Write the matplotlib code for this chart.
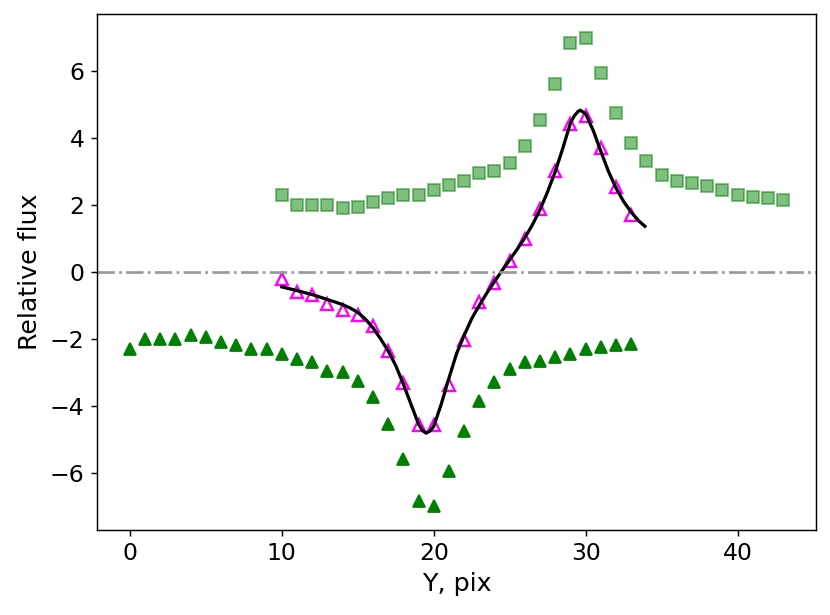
import matplotlib
matplotlib.use("Agg")
import matplotlib.pyplot as plt

# pixel positions along Y
pix_low = list(range(0, 34))
pix_mid = list(range(10, 34))
pix_high = list(range(10, 44))

# filled green triangles (negative lobe)
flux_low = [-2.3, -2.0, -2.0, -2.0, -1.9, -1.95, -2.1, -2.2, -2.3, -2.3,
            -2.45, -2.6, -2.7, -2.95, -3.0, -3.25, -3.75, -4.55, -5.6, -6.85,
            -7.0, -5.95, -4.75, -3.85, -3.3, -2.9, -2.7, -2.65, -2.55, -2.45,
            -2.3, -2.25, -2.2, -2.15]

# light green squares (positive lobe)
flux_high = [2.3, 2.0, 2.0, 2.0, 1.9, 1.95, 2.1, 2.2, 2.3, 2.3,
             2.45, 2.6, 2.7, 2.95, 3.0, 3.25, 3.75, 4.55, 5.6, 6.85,
             7.0, 5.95, 4.75, 3.85, 3.3, 2.9, 2.7, 2.65, 2.55, 2.45,
             2.3, 2.25, 2.2, 2.15]

# open magenta triangles (difference)
flux_diff = [-0.2, -0.6, -0.7, -0.95, -1.15, -1.3, -1.62, -2.38, -3.31, -4.57,
             -4.57, -3.39, -2.05, -0.9, -0.32, 0.33, 0.97, 1.88, 3.0, 4.43,
             4.66, 3.69, 2.53, 1.69]

# model curve
model_x = [10.0, 11.0, 12.0, 12.75, 13.5, 14.0, 14.5, 15.0, 15.5, 16.0,
           16.5, 17.0, 17.5, 18.0, 18.5, 19.0, 19.25, 19.5, 19.75, 20.0,
           20.5, 21.0, 21.5, 22.0, 22.5, 23.0, 23.5, 24.0, 24.5, 25.0,
           25.5, 26.0, 26.5, 27.0, 27.5, 28.0, 28.5, 29.0, 29.25, 29.5,
           29.65, 30.0, 30.5, 31.0, 31.5, 32.0, 32.5, 33.0, 33.5, 33.9]
model_y = [-0.45, -0.56, -0.68, -0.79, -0.9, -0.98, -1.08, -1.21, -1.41, -1.67,
           -2.0, -2.36, -2.80, -3.35, -3.95, -4.55, -4.74, -4.82, -4.76, -4.62,
           -3.95, -3.18, -2.45, -1.90, -1.40, -1.00, -0.63, -0.29, 0.04, 0.36,
           0.68, 1.02, 1.41, 1.86, 2.40, 3.00, 3.70, 4.45, 4.66, 4.79,
           4.83, 4.72, 4.22, 3.60, 3.00, 2.50, 2.10, 1.78, 1.52, 1.36]

fig = plt.figure(figsize=(830 / 130, 615 / 130), dpi=130)
ax = fig.add_axes([0.117, 0.139, 0.866, 0.838])

ax.plot(pix_high, flux_high, "s", color="green", alpha=0.5, markersize=7)
ax.plot(pix_low, flux_low, "^", color="green", markersize=7)
ax.plot(pix_mid, flux_diff, "^", color="magenta", markerfacecolor="none",
        markersize=7, markeredgewidth=1.3)
ax.plot(model_x, model_y, color="black", linewidth=1.8)
ax.axhline(0, color="0.6", linestyle="-.", linewidth=1.5)

ax.set_xlabel("Y, pix", fontsize=14)
ax.set_ylabel("Relative flux", fontsize=14)
ax.tick_params(labelsize=13)

fig.savefig("out.png", dpi=130)
